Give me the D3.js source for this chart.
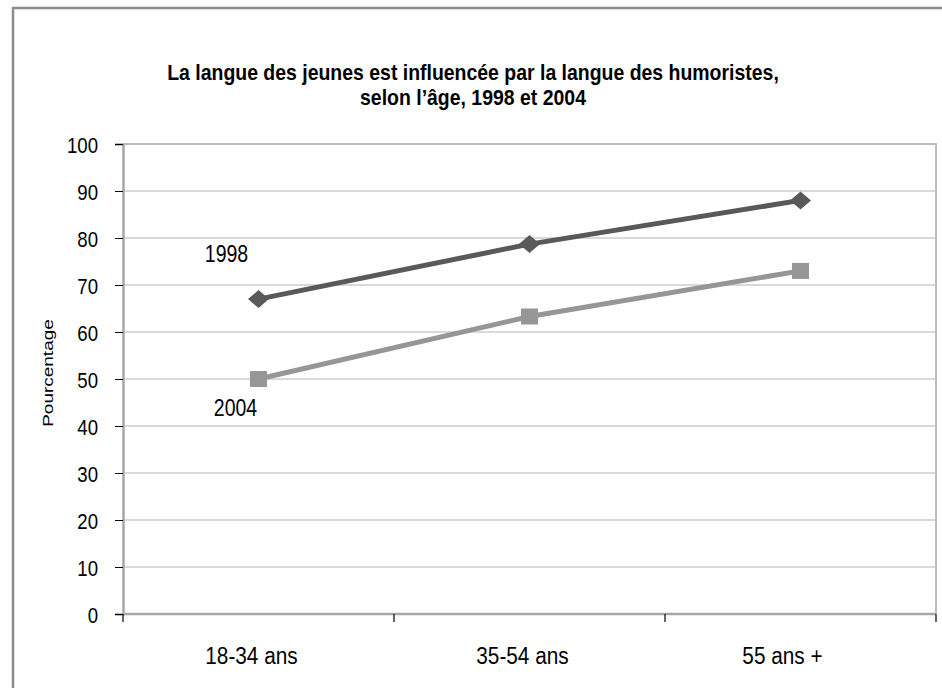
<!DOCTYPE html>
<html><head><meta charset="utf-8">
<script src="https://cdn.jsdelivr.net/npm/d3@7/dist/d3.min.js"></script>
<style>
body{margin:0;background:#fff;}
svg{display:block;font-family:"Liberation Sans",Arial,sans-serif;}
</style></head>
<body>
<svg id="chart" width="942" height="688"></svg>
<script>
const categories = ["18-34 ans", "35-54 ans", "55 ans +"];
const values1998 = [67, 78.7, 88];
const values2004 = [50, 63.3, 73];
const seriesNames = ["1998", "2004"];
const yTicks = [0,10,20,30,40,50,60,70,80,90,100];
const titleLines = ["La langue des jeunes est influencée par la langue des humoristes,", "selon l’âge, 1998 et 2004"];
const yLabel = "Pourcentage";

const svg = d3.select("#chart");
const W = 942, H = 688;
const m = {left:123, top:144, right:936, bottom:614};

// outer frame
svg.append("rect").attr("x",13).attr("y",8).attr("width",W).attr("height",H)
  .attr("fill","none").attr("stroke","#8c8c8c").attr("stroke-width",2.5);

const x = d3.scaleBand().domain(categories).range([m.left, m.right]);
const y = d3.scaleLinear().domain([0,100]).range([m.bottom, m.top]);

// gridlines
svg.append("g").selectAll("line").data(yTicks.filter(d=>d>0 && d<100)).join("line")
  .attr("x1",m.left).attr("x2",m.right).attr("y1",d=>y(d)).attr("y2",d=>y(d))
  .attr("stroke","#d9d9d9").attr("stroke-width",2);

// plot frame top/right
svg.append("path").attr("d",`M${m.left},${y(100)}H${m.right}V${m.bottom}`)
  .attr("fill","none").attr("stroke","#bdbdbd").attr("stroke-width",2);

// y axis
const kY = 0.81;
const yAxis = d3.axisLeft(y).tickValues(yTicks).tickSize(8).tickPadding(0);
const gy = svg.append("g").attr("transform",`translate(${m.left},0)`).call(yAxis);
gy.select(".domain").attr("stroke","#a6a6a6").attr("stroke-width",2.5);
gy.selectAll(".tick line").attr("stroke","#000").attr("stroke-width",1);
gy.selectAll(".tick text").attr("font-size",23).attr("fill","#000").attr("font-family","inherit")
  .attr("x",-25/kY).attr("dy","0.35em").attr("transform",`scale(${kY},1)`);

// x axis
const gx = svg.append("g").attr("transform",`translate(0,${m.bottom})`);
gx.append("line").attr("x1",m.left).attr("x2",m.right).attr("stroke","#a6a6a6").attr("stroke-width",2.5);
const bounds = categories.map(c=>x(c)).concat([m.right]);
gx.selectAll(".bt").data(bounds).join("line").attr("class","bt")
  .attr("x1",d=>d).attr("x2",d=>d).attr("y1",0).attr("y2",8)
  .attr("stroke","#000").attr("stroke-width",1.2);
const kX = 0.885;
const labelShift = [-7, -7, -18];
gx.selectAll(".lbl").data(categories).join("text").attr("class","lbl")
  .attr("transform",(d,i)=>`translate(${x(d)+x.bandwidth()/2+labelShift[i]},50) scale(${kX},1)`)
  .attr("text-anchor","middle").attr("font-size",23.5).attr("fill","#000").text(d=>d);

// y label
svg.append("text").attr("transform",`translate(53,${(m.top+m.bottom)/2-6}) scale(0.78,1) rotate(-90)`)
  .attr("text-anchor","middle").attr("font-size",19).attr("fill","#000").text(yLabel);

// title
const kT = 0.865;
svg.append("g").selectAll("text").data(titleLines).join("text")
  .attr("transform",(d,i)=>`translate(473,${80+i*25}) scale(${kT},1)`).attr("text-anchor","middle")
  .attr("font-size",22.5).attr("font-weight","bold").attr("fill","#000").text(d=>d);

const cx = c=>x(c)+x.bandwidth()/2;
const line = d3.line().x(d=>cx(d.c)).y(d=>y(d.v));

const s1998 = categories.map((c,i)=>({c, v:values1998[i]}));
const s2004 = categories.map((c,i)=>({c, v:values2004[i]}));

svg.append("path").datum(s2004).attr("d",line).attr("fill","none").attr("stroke","#969696").attr("stroke-width",5);
svg.append("g").selectAll("rect").data(s2004).join("rect")
  .attr("x",d=>cx(d.c)-8.5).attr("y",d=>y(d.v)-8).attr("width",17).attr("height",16).attr("fill","#969696");

svg.append("path").datum(s1998).attr("d",line).attr("fill","none").attr("stroke","#595959").attr("stroke-width",5);
svg.append("g").selectAll("path.d").data(s1998).join("path").attr("class","d")
  .attr("d",d=>{const px=cx(d.c), py=y(d.v), rx=10.5, ry=9; return `M${px},${py-ry}L${px+rx},${py}L${px},${py+ry}L${px-rx},${py}Z`;})
  .attr("fill","#595959");

// series labels
const kS = 0.83;
svg.append("text").attr("transform",`translate(${cx(categories[0])-32},${y(values1998[0])-37}) scale(${kS},1)`)
  .attr("text-anchor","middle").attr("font-size",23.5).attr("fill","#000").text(seriesNames[0]);
svg.append("text").attr("transform",`translate(${cx(categories[0])-23},${y(values2004[0])+37}) scale(${kS},1)`)
  .attr("text-anchor","middle").attr("font-size",23.5).attr("fill","#000").text(seriesNames[1]);
</script>
</body></html>
